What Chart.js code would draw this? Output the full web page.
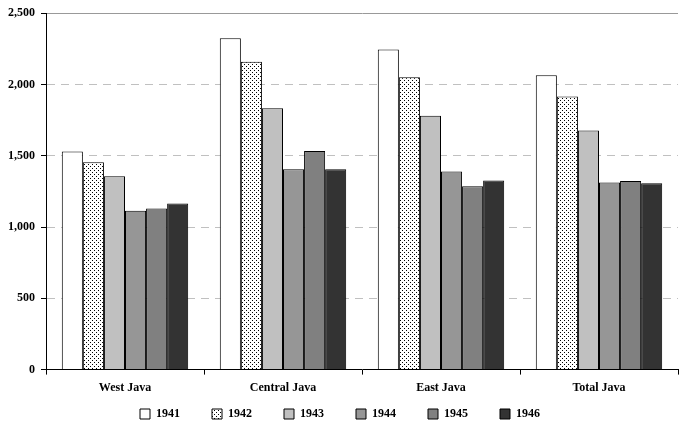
<!DOCTYPE html>
<html>
<head>
<meta charset="utf-8">
<script src="https://cdn.jsdelivr.net/npm/chart.js@4.4.1/dist/chart.umd.min.js"></script>
<style>
  html, body { margin: 0; padding: 0; background: #fff; }
  #wrap { width: 682px; height: 422px; }
</style>
</head>
<body>
<div id="wrap"><canvas id="grafica" width="682" height="422"></canvas></div>
<script>
const regiones = ['West Java', 'Central Java', 'East Java', 'Total Java'];
const anios = ['1941', '1942', '1943', '1944', '1945', '1946'];

const valores_1941 = [1530, 2325, 2245, 2065];
const valores_1942 = [1455, 2160, 2050, 1915];
const valores_1943 = [1357, 1833, 1781, 1678];
const valores_1944 = [1115, 1405, 1390, 1313];
const valores_1945 = [1130, 1533, 1287, 1323];
const valores_1946 = [1166, 1405, 1327, 1308];

const ticks_y = [0, 500, 1000, 1500, 2000, 2500];

// relleno punteado para 1942
function patronPuntos() {
  const c = document.createElement('canvas');
  c.width = 4;
  c.height = 4;
  const g = c.getContext('2d');
  g.fillStyle = '#ffffff';
  g.fillRect(0, 0, 4, 4);
  g.fillStyle = '#000000';
  g.fillRect(0, 0, 1, 1);
  g.fillRect(2, 2, 1, 1);
  return g.createPattern(c, 'repeat');
}

const rellenos = ['#ffffff', patronPuntos(), '#c0c0c0', '#969696', '#808080', '#333333'];
const series = [valores_1941, valores_1942, valores_1943, valores_1944, valores_1945, valores_1946];

const fuente = { family: '"Liberation Serif", "Times New Roman", serif', weight: 'bold', size: 12 };

// la leyenda usa un padding grande para separar los items; se sube su caja
// para que los items queden justo debajo de las etiquetas del eje x
const subirLeyenda = {
  id: 'subirLeyenda',
  afterLayout: function(chart) {
    if (chart.legend) {
      chart.legend.top = 376;
    }
  }
};

const ctx = document.getElementById('grafica');

new Chart(ctx, {
  type: 'bar',
  data: {
    labels: regiones,
    datasets: anios.map(function(anio, i) {
      return {
        label: anio,
        data: series[i],
        backgroundColor: rellenos[i],
        borderColor: '#000000',
        borderWidth: 1,
        categoryPercentage: 0.8,
        barPercentage: 1.0
      };
    })
  },
  plugins: [subirLeyenda],
  options: {
    responsive: false,
    animation: false,
    layout: { padding: { left: 2, right: 4, top: 6, bottom: 0 } },
    plugins: {
      tooltip: { enabled: false },
      legend: {
        position: 'bottom',
        maxHeight: 21,
        labels: {
          boxWidth: 10,
          boxHeight: 10,
          padding: 32,
          color: '#000',
          font: fuente
        }
      }
    },
    scales: {
      x: {
        grid: {
          offset: true,
          drawOnChartArea: false,
          drawTicks: true,
          tickLength: 5,
          tickColor: '#000'
        },
        border: { display: true, color: '#000', width: 1 },
        ticks: { color: '#000', font: fuente, padding: 6 }
      },
      y: {
        min: 0,
        max: 2500,
        afterBuildTicks: function(axis) {
          axis.ticks = ticks_y.map(function(v) { return { value: v }; });
        },
        grid: {
          color: function(c) {
            if (c.tick && c.tick.value === 0) return 'rgba(0,0,0,0)';
            if (c.tick && c.tick.value === 2500) return '#999';
            return '#c0c0c0';
          },
          tickColor: '#000',
          tickLength: 5,
          lineWidth: 1
        },
        border: {
          display: true,
          color: '#000',
          width: 1,
          dash: function(c) {
            if (c.tick && c.tick.value === 2500) return [];
            return [8, 6];
          }
        },
        ticks: {
          color: '#000',
          font: fuente,
          padding: 6,
          callback: function(v) { return v.toLocaleString('en-US'); }
        }
      }
    }
  }
});
</script>
</body>
</html>
